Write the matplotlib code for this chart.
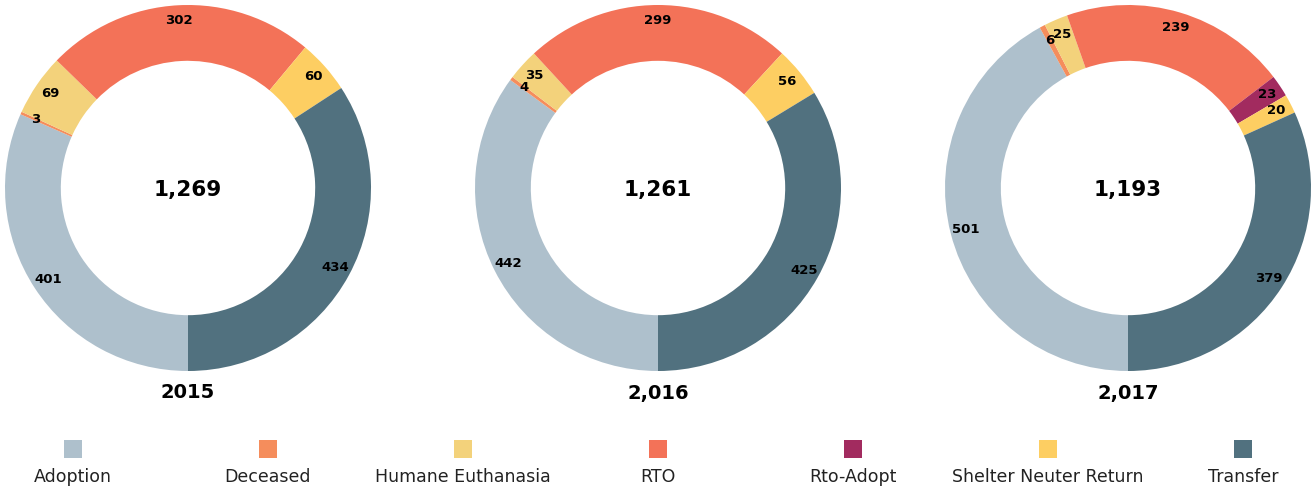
import matplotlib.pyplot as plt
from matplotlib.patches import Rectangle

plt.rcParams['font.family'] = 'DejaVu Sans'

categories = ['Adoption', 'Deceased', 'Humane Euthanasia', 'RTO',
              'Rto-Adopt', 'Shelter Neuter Return', 'Transfer']
colors = ['#AEC0CC', '#F58D5C', '#F3D27B', '#F37258',
          '#A22B5F', '#FDCE62', '#51717F']

years = ['2015', '2,016', '2,017']
values_2015 = [401, 3, 69, 302, 0, 60, 434]
values_2016 = [442, 4, 35, 299, 0, 56, 425]
values_2017 = [501, 6, 25, 239, 23, 20, 379]
totals = ['1,269', '1,261', '1,193']

W, H = 1315, 491
fig = plt.figure(figsize=(W / 100, H / 100), dpi=100)

centers_x = [188, 658, 1128]
cy = 188
R = 183


def make_label(vals):
    total = sum(vals)

    def fmt(pct):
        v = int(round(pct * total / 100.0))
        return '' if v == 0 else f'{v}'
    return fmt


for cx, vals, yr, tot in zip(centers_x, [values_2015, values_2016, values_2017], years, totals):
    ax = fig.add_axes([(cx - R) / W, (H - cy - R) / H, 2 * R / W, 2 * R / H])
    wedges, texts, autotexts = ax.pie(
        vals, colors=colors, startangle=-90, counterclock=False, radius=1,
        wedgeprops=dict(width=0.305, linewidth=0),
        autopct=make_label(vals), pctdistance=0.915,
        textprops=dict(fontsize=9.5, fontweight='bold', color='black'))
    ax.set_xlim(-1, 1)
    ax.set_ylim(-1, 1)
    ax.axis('off')
    ax.text(0, -0.01, tot, ha='center', va='center', fontsize=15.5, fontweight='bold')

# overlay for year labels and legend, in pixel coords
lax = fig.add_axes([0, 0, 1, 1])
lax.set_xlim(0, W)
lax.set_ylim(H, 0)
lax.axis('off')

for cx, yr in zip(centers_x, years):
    lax.text(cx, 393, yr, ha='center', va='center', fontsize=14, fontweight='bold')

for i, (name, c) in enumerate(zip(categories, colors)):
    x = 73 + 195 * i
    lax.add_patch(Rectangle((x - 9, 440), 18, 18, facecolor=c, edgecolor='none'))
    lax.text(x, 482, name, ha='center', va='baseline', fontsize=12.5, color='#222222')

fig.savefig('out.png', dpi=100)
